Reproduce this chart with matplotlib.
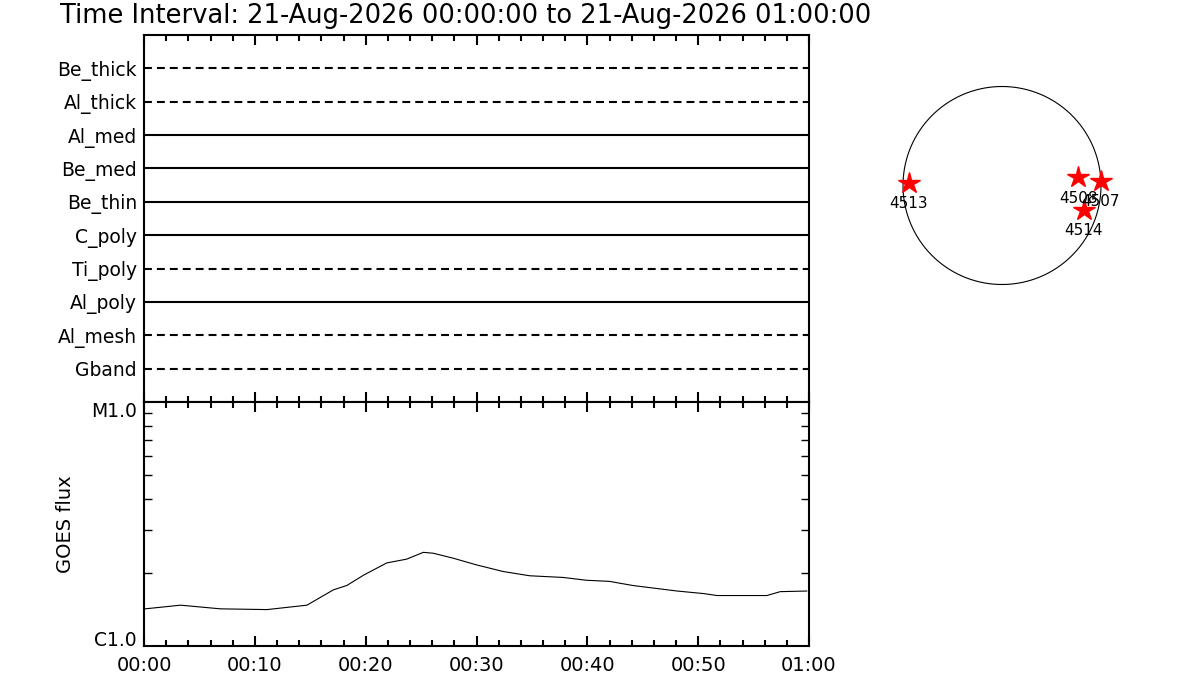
import matplotlib
matplotlib.use("Agg")
import matplotlib.pyplot as plt
from matplotlib.ticker import FixedLocator, FuncFormatter, NullFormatter
import numpy as np

# filter timeline (top panel), top row first
filters = ['Be_thick', 'Al_thick', 'Al_med', 'Be_med', 'Be_thin',
           'C_poly', 'Ti_poly', 'Al_poly', 'Al_mesh', 'Gband']
filter_observed = [False, False, True, True, True,
                   True, False, True, False, False]

# GOES flux curve, minutes after 00:00
goes_minutes = [0.1, 3.3, 6.9, 11.1, 14.7, 17.1, 18.3, 19.8, 21.9, 23.7,
                25.2, 26.1, 27.9, 30.0, 32.4, 34.8, 37.8, 39.9, 42.0, 44.1,
                48.1, 50.5, 51.7, 56.2, 57.4, 59.8]
goes_flux = [1.42e-6, 1.47e-6, 1.42e-6, 1.41e-6, 1.47e-6, 1.70e-6, 1.77e-6,
             1.95e-6, 2.19e-6, 2.27e-6, 2.42e-6, 2.40e-6, 2.29e-6, 2.15e-6,
             2.02e-6, 1.94e-6, 1.91e-6, 1.86e-6, 1.84e-6, 1.77e-6, 1.68e-6,
             1.64e-6, 1.61e-6, 1.61e-6, 1.67e-6, 1.68e-6]
goes_levels = [1e-6, 1e-5]
goes_level_labels = ['C1.0', 'M1.0']

# active regions on the disk (arcsec)
ar_numbers = ['4513', '4508', '4507', '4514']
ar_x = [-902, 737, 957, 795]
ar_y = [27, 80, 47, -238]

title = 'Time Interval: 21-Aug-2026 00:00:00 to 21-Aug-2026 01:00:00'

W, H = 1200, 700
fig = plt.figure(figsize=(12, 7), dpi=100)
plt.rcParams['font.family'] = 'DejaVu Sans'


def px_axes(x0, y0, x1, y1):
    # pixel box (top-left origin) -> figure axes
    return fig.add_axes([x0 / W, 1 - y1 / H, (x1 - x0) / W, (y1 - y0) / H])


fmt_time = FuncFormatter(lambda m, p: '%02d:%02d' % (int(m) // 60, int(m) % 60))

# top panel
ax1 = px_axes(144, 35, 809, 402)
for i, (name, obs) in enumerate(zip(filters, filter_observed)):
    yv = len(filters) - i
    ls = '-' if obs else (0, (3.8, 2.4))
    ax1.plot([0, 60], [yv, yv], color='black', lw=1.5, ls=ls)
ax1.set_xlim(0, 60)
ax1.set_ylim(0, len(filters) + 1)
ax1.set_yticks(range(len(filters), 0, -1))
ax1.set_yticklabels(filters, fontsize=13.5)
ax1.tick_params(axis='y', length=0, pad=5)
ax1.xaxis.set_major_locator(FixedLocator(np.arange(0, 61, 10)))
ax1.xaxis.set_minor_locator(FixedLocator(np.arange(0, 61, 2)))
ax1.xaxis.set_major_formatter(NullFormatter())
ax1.tick_params(axis='x', which='both', direction='in', top=True, bottom=True,
                width=1.5)
ax1.tick_params(axis='x', which='major', length=7)
ax1.tick_params(axis='x', which='minor', length=4)
for s in ax1.spines.values():
    s.set_linewidth(1.5)

# bottom panel
ax2 = px_axes(144, 402, 809, 646)
ax2.plot(goes_minutes, goes_flux, color='black', lw=0.8)
ax2.set_yscale('log')
ax2.set_ylim(goes_levels[0], goes_levels[-1])
ax2.set_xlim(0, 60)
ax2.set_yticks(goes_levels)
ax2.set_yticklabels(goes_level_labels, fontsize=13.5)
lbls = ax2.get_yticklabels()
lbls[0].set_verticalalignment('baseline')
lbls[-1].set_verticalalignment('top')
ax2.yaxis.set_minor_locator(FixedLocator(np.arange(2, 10) * 1e-6))
ax2.yaxis.set_minor_formatter(NullFormatter())
ax2.tick_params(axis='y', which='major', length=0, pad=5)
ax2.tick_params(axis='y', which='minor', direction='in', length=6,
                width=1, left=True, right=True)
ax2.xaxis.set_major_locator(FixedLocator(np.arange(0, 61, 10)))
ax2.xaxis.set_minor_locator(FixedLocator(np.arange(0, 61, 2)))
ax2.xaxis.set_major_formatter(fmt_time)
ax2.tick_params(axis='x', which='both', direction='in', top=True, bottom=True,
                width=1.5, labelsize=14, pad=7)
ax2.tick_params(axis='x', which='major', length=7)
ax2.tick_params(axis='x', which='minor', length=4)
ax2.set_ylabel('GOES flux', fontsize=14)
ax2.yaxis.set_label_coords(-0.104, 0.5)
for s in ax2.spines.values():
    s.set_linewidth(1.5)

# solar disk
ax3 = px_axes(892, 75.5, 1112, 295.5)
lim = 110 / 99 * 960
t = np.linspace(0, 2 * np.pi, 400)
ax3.plot(960 * np.cos(t), 960 * np.sin(t), color='black', lw=0.8)
ax3.plot(ar_x, ar_y, ls='none', marker='*', ms=16, color='red', mec='red')
for num, xv, yv in zip(ar_numbers, ar_x, ar_y):
    ax3.annotate(num, (xv, yv), xytext=(0, -15), textcoords='offset points',
                 ha='center', va='center', fontsize=11)
ax3.set_xlim(-lim, lim)
ax3.set_ylim(-lim, lim)
ax3.set_aspect('equal')
ax3.axis('off')

fig.text(60 / W, 1 - 23 / H, title, fontsize=18.5, va='baseline', ha='left')

fig.savefig('out.png', dpi=100)
